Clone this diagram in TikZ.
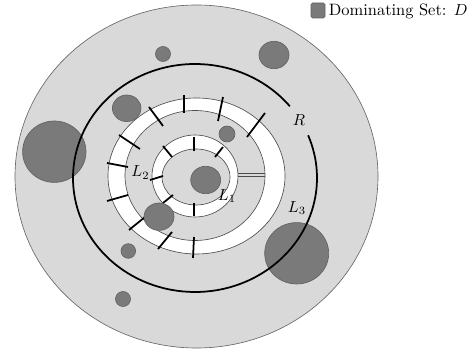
\documentclass[tikz,border=0pt]{standalone}
\usepackage{amsmath}
\usepackage{amssymb}
\usepackage{tikz}

\tikzset{
  dom/.style={fill=black!52, draw=black!62, line width=0.4pt},
  band/.style={draw=black!70, line width=0.4pt},
  tick/.style={black, line width=1.1pt},
  lbl/.style={inner sep=0pt}
}

\begin{document}
\begin{tikzpicture}[scale=0.022]
\useasboundingbox (0,0) rectangle (471,353);
% outer region
\filldraw[fill=black!15, draw=black!60, line width=0.4pt] (196.5,176.5) ellipse (181.5 and 171.5);
% layer L2
\fill[white, even odd rule] (196.5,177) ellipse (88.5 and 78) (195,177.5) ellipse (70 and 65);
\draw[band] (196.5,177) ellipse (88.5 and 78);
\draw[band] (195,177.5) ellipse (70 and 65);
% layer L1
\fill[white, even odd rule] (195,177) ellipse (43 and 41) (196,176) ellipse (34 and 28);
\draw[band] (195,177) ellipse (43 and 41);
\draw[band] (196,176) ellipse (34 and 28);
% gap
\draw[band] (238,179.3) -- (265,179.3);
\draw[band] (238,176.7) -- (265,176.7);
% ticks on L2
\draw[tick] (184,258) -- (184,240);
\draw[tick] (223,256) -- (218,232);
\draw[tick] (265,240) -- (247,216);
\draw[tick] (149,246) -- (163,227);
\draw[tick] (119,218) -- (140,204);
\draw[tick] (107,190) -- (128,186);
\draw[tick] (107,152) -- (128,158);
\draw[tick] (129,123) -- (145,136);
\draw[tick] (158,104) -- (172,121);
\draw[tick] (193,95) -- (194,116);
% ticks on L1
\draw[tick] (194,216) -- (194,202);
\draw[tick] (223,206) -- (215,196);
\draw[tick] (163,207) -- (172,196);
\draw[tick] (150,173) -- (163,177);
\draw[tick] (163,150) -- (173,158);
\draw[tick] (194,150) -- (194,137);
% dominating set
\filldraw[dom] (163,299) circle (7.5);
\filldraw[dom] (274,298) ellipse (15 and 13.7);
\filldraw[dom] (126.7,244.7) ellipse (14.3 and 13.3);
\filldraw[dom] (54.3,201.3) ellipse (31.7 and 30.7);
\filldraw[dom] (227,219) circle (8);
\filldraw[dom] (205.7,173) ellipse (15 and 13.7);
\filldraw[dom] (159,136.3) ellipse (15 and 13.7);
\filldraw[dom] (128.3,102) circle (7.3);
\filldraw[dom] (123,54) circle (7.5);
\filldraw[dom] (296.7,99.7) ellipse (32 and 30.7);
% radius R
\draw[black, line width=1.1pt] (195,175) ++(39:122 and 114) arc[start angle=39, end angle=382, x radius=122, y radius=114];
% labels
\node[lbl] (R) at (299,233) {$R$};
\node[lbl] (L3) at (297,145) {$L_3$};
\node[lbl] (L2) at (140.5,180.5) {$L_2$};
\node[lbl] (L1) at (227,157) {$L_1$};
% legend
\filldraw[dom, rounded corners=1pt] (311,335) rectangle (325,350);
\node[lbl, anchor=base west, font=\fontsize{10.3}{12}\selectfont] (legend) at (328.5,337) {Dominating Set: $D$};
\end{tikzpicture}
\end{document}
